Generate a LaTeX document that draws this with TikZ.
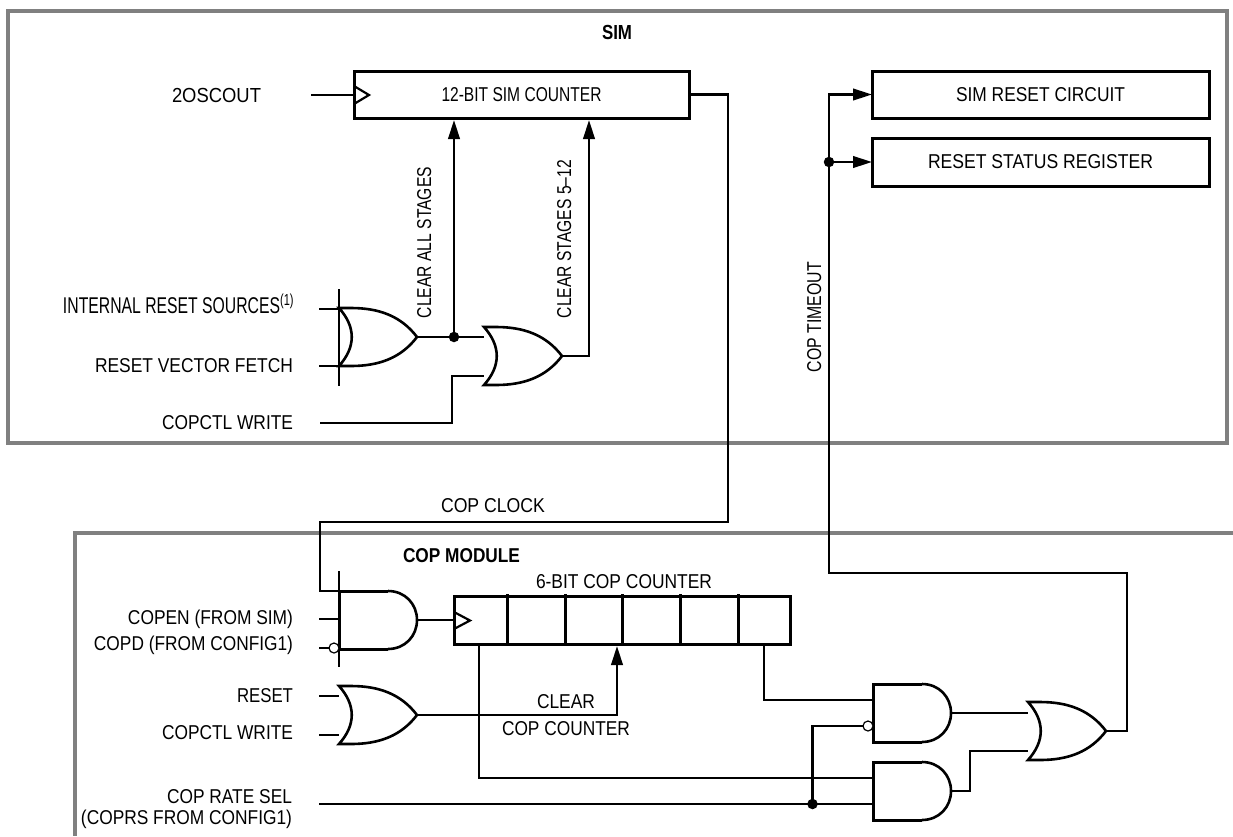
\documentclass[tikz,border=0pt]{standalone}
\usepackage{graphicx}
\usepackage{fontspec}
\setmainfont{Liberation Sans}
\usetikzlibrary{arrows.meta}
\pgfdeclarelayer{bg}
\pgfsetlayers{bg,main}
\newcommand{\TT}[3]{\resizebox{#1pt}{#2pt}{#3}}
\tikzset{
  wire/.style={line width=2.4pt,black},
  arr/.style={wire,-{Triangle[length=19pt,width=11.5pt]}},
  frameline/.style={line width=4pt,draw=black!50},
  boxn/.style={draw,line width=3pt,rectangle,inner sep=0pt,outer sep=0pt,font=\fontsize{18}{20}\selectfont},
  lab/.style={inner sep=0pt,outer sep=0pt,anchor=base,font=\fontsize{18}{20}\selectfont},
  dotn/.style={circle,fill=black,inner sep=0pt,minimum size=10.5pt},
  bubn/.style={circle,draw,fill=white,line width=1.2pt,inner sep=0pt,minimum size=10pt},
  clk/.style={line width=2.2pt,line join=miter},
  orgate/.pic={
    \draw[fill=white,line width=2.6pt,line join=miter]
      (0,0) -- (12,0) .. controls (40,0) and (62,8) .. (78,29)
      .. controls (62,50) and (40,58) .. (12,58) -- (0,58)
      .. controls (17,39) and (17,19) .. (0,0) -- cycle;
    \coordinate (-top) at (0,0.5);
    \coordinate (-bot) at (0,58);
    \coordinate (-in1) at (0,10);
    \coordinate (-in2) at (0,49);
    \coordinate (-out) at (78,29);
  },
  andgate/.pic={
    \draw[fill=white,line width=2.6pt]
      (49,0) .. controls (66,0) and (78,13) .. (78,29)
      .. controls (78,45) and (66,58) .. (49,58);
    \draw[line width=3pt,line join=miter] (49,58) -- (0,58) -- (0,0) -- (49,0);
    \coordinate (-top) at (0,0);
    \coordinate (-bot) at (0,57);
    \coordinate (-in0) at (0,28);
    \coordinate (-in1) at (0,16);
    \coordinate (-in2) at (0,42);
    \coordinate (-out) at (78,29);
  }
}
\begin{document}
\begin{tikzpicture}[x=1pt,y=-1pt]
\useasboundingbox (0,0) rectangle (1233,836);

% boxes
\node[boxn,minimum width=335pt,minimum height=47pt] (cnt) at (521.5,94.5) {\TT{160}{14}{12-BIT SIM COUNTER}};
\node[boxn,minimum width=337pt,minimum height=47pt] (sr) at (1040.5,94.5) {\TT{169}{14}{SIM RESET CIRCUIT}};
\node[boxn,minimum width=337pt,minimum height=48pt] (rs) at (1040.5,162) {\TT{225}{14}{RESET STATUS REGISTER}};
\node[boxn,minimum width=336pt,minimum height=48pt] (cc) at (622,620) {};
\foreach \x in {507,565,622,680,738} \draw[line width=3pt] (\x,594) -- (\x,645);
\draw[clk] (354,86) -- (369,95) -- (354,104);
\draw[clk] (454,612) -- (470,620.5) -- (454,629);

% gates
\pic (g1) at (339,308) {orgate};
\pic (g2) at (484,327) {orgate};
\pic (g3) at (339,686) {orgate};
\pic (g4) at (1028,702) {orgate};
\pic (a1) at (339,591) {andgate};
\pic (a2) at (873,684) {andgate};
\pic (a3) at (873,762) {andgate};

\node[bubn] (b1) at (334,648) {};
\node[bubn] (b2) at (868,726) {};
\node[dotn] (j1) at (454,337) {};
\node[dotn] (j2) at (812.5,804) {};
\node[dotn] (j3) at (829,162) {};

% free ends and bends
\coordinate (fOsc) at (311,95);
\coordinate (fI1) at (319,309);
\coordinate (fI2) at (319,366);
\coordinate (fW) at (320,423);
\coordinate (k1) at (452,423);
\coordinate (t1) at (454,120);
\coordinate (t2) at (589,120);
\coordinate (k2) at (728,522);
\coordinate (k3) at (320,522);
\coordinate (fE) at (319,619);
\coordinate (fD) at (319,648);
\coordinate (fR) at (319,696);
\coordinate (fC) at (319,735);
\coordinate (fS) at (319,804);
\coordinate (t3) at (617,646);
\coordinate (tap1) at (479,644);
\coordinate (tap2) at (764,644);
\coordinate (k5) at (970,791);
\coordinate (k6) at (1127,573);
\coordinate (k7) at (829,573);
\coordinate (bT1) at (339,289);
\coordinate (bB1) at (339,386);
\coordinate (bT2) at (339,571);
\coordinate (bB2) at (339,667);

\begin{pgfonlayer}{bg}
  \draw[frameline] (8,11) rectangle (1227,443);
  \draw[frameline] (1233,533) -- (75,533) -- (75,836);
  \draw[wire] (fOsc) -- (cnt.west |- fOsc);
  \draw[wire] (fI1) -- (fI1 -| g1-top);
  \draw[wire] (fI2) -- (fI2 -| g1-bot);
  \draw[wire] (bT1) -- (bB1);
  \draw[wire] (g1-out) -- (g1-out -| g2-in1);
  \draw[arr] (j1.center) -- (t1);
  \draw[arr] (g2-out) -| (t2);
  \draw[wire] (fW) -- (k1) |- (g2-in2);
  \draw[wire] (cnt.east) -| (k2) -- (k3) |- (a1-top);
  \draw[wire] (bT2) -- (bB2);
  \draw[wire] (fE) -- (a1-in0 |- fE);
  \draw[wire] (fD) -- (b1.center);
  \draw[wire] (a1-out) -- (cc.west |- a1-out);
  \draw[wire] (fR) -- (g3-in1 |- fR);
  \draw[wire] (fC) -- (g3-in2 |- fC);
  \draw[arr] (g3-out) -| (t3);
  \draw[wire] (tap1) |- (a3-in1);
  \draw[wire] (tap2) |- (a2-in1);
  \draw[wire] (fS) -- (a3-in2);
  \draw[wire] (j2.center) |- (b2.center);
  \draw[wire] (a2-out) -- (a2-out -| g4-in1);
  \draw[wire] (a3-out) -- (k5) |- (g4-in2);
  \draw[wire] (g4-out) -| (k6) -- (k7) -- (j3.center);
  \draw[arr] (j3.center) |- (sr.west);
  \draw[arr] (j3.center) -- (rs.west);
\end{pgfonlayer}

% labels
\node[lab] (tsim) at (617,39) {\TT{30}{14.2}{\bfseries SIM}};
\node[lab] (t2osc) at (216.5,102) {\TT{89}{14.2}{2OSCOUT}};
\node[lab] (tint) at (178.5,313) {\TT{231}{19.5}{INTERNAL RESET SOURCES\textsuperscript{(1)}}};
\node[lab] (tvec) at (194,372) {\TT{198}{14}{RESET VECTOR FETCH}};
\node[lab] (tw1) at (227.5,429) {\TT{131}{14}{COPCTL WRITE}};
\node[lab,rotate=90] (tall) at (431,242.5) {\TT{151}{14}{CLEAR ALL STAGES}};
\node[lab,rotate=90] (t512) at (571,239) {\TT{158}{14}{CLEAR STAGES 5--12}};
\node[lab,rotate=90] (tto) at (821,317) {\TT{110}{14}{COP TIMEOUT}};
\node[lab] (tclk) at (493,512) {\TT{104}{14}{COP CLOCK}};
\node[lab] (tmod) at (461.5,562) {\TT{117}{14}{\bfseries COP MODULE}};
\node[lab] (t6) at (624,588) {\TT{176}{14}{6-BIT COP COUNTER}};
\node[lab] (ten) at (210.5,624) {\TT{165}{14.5}{COPEN (FROM SIM)}};
\node[lab] (tpd) at (193.5,650) {\TT{199}{14.5}{COPD (FROM CONFIG1)}};
\node[lab] (trs) at (265,702) {\TT{56}{14}{RESET}};
\node[lab] (tw2) at (227.5,739) {\TT{131}{14}{COPCTL WRITE}};
\node[lab] (tcl) at (566,708) {\TT{58}{14}{CLEAR}};
\node[lab] (tcc) at (566,735) {\TT{128}{14}{COP COUNTER}};
\node[lab] (trt) at (229.5,803) {\TT{125}{14}{COP RATE SEL}};
\node[lab] (tcp) at (186.5,824) {\TT{211}{14.5}{(COPRS FROM CONFIG1)}};
\end{tikzpicture}
\end{document}
